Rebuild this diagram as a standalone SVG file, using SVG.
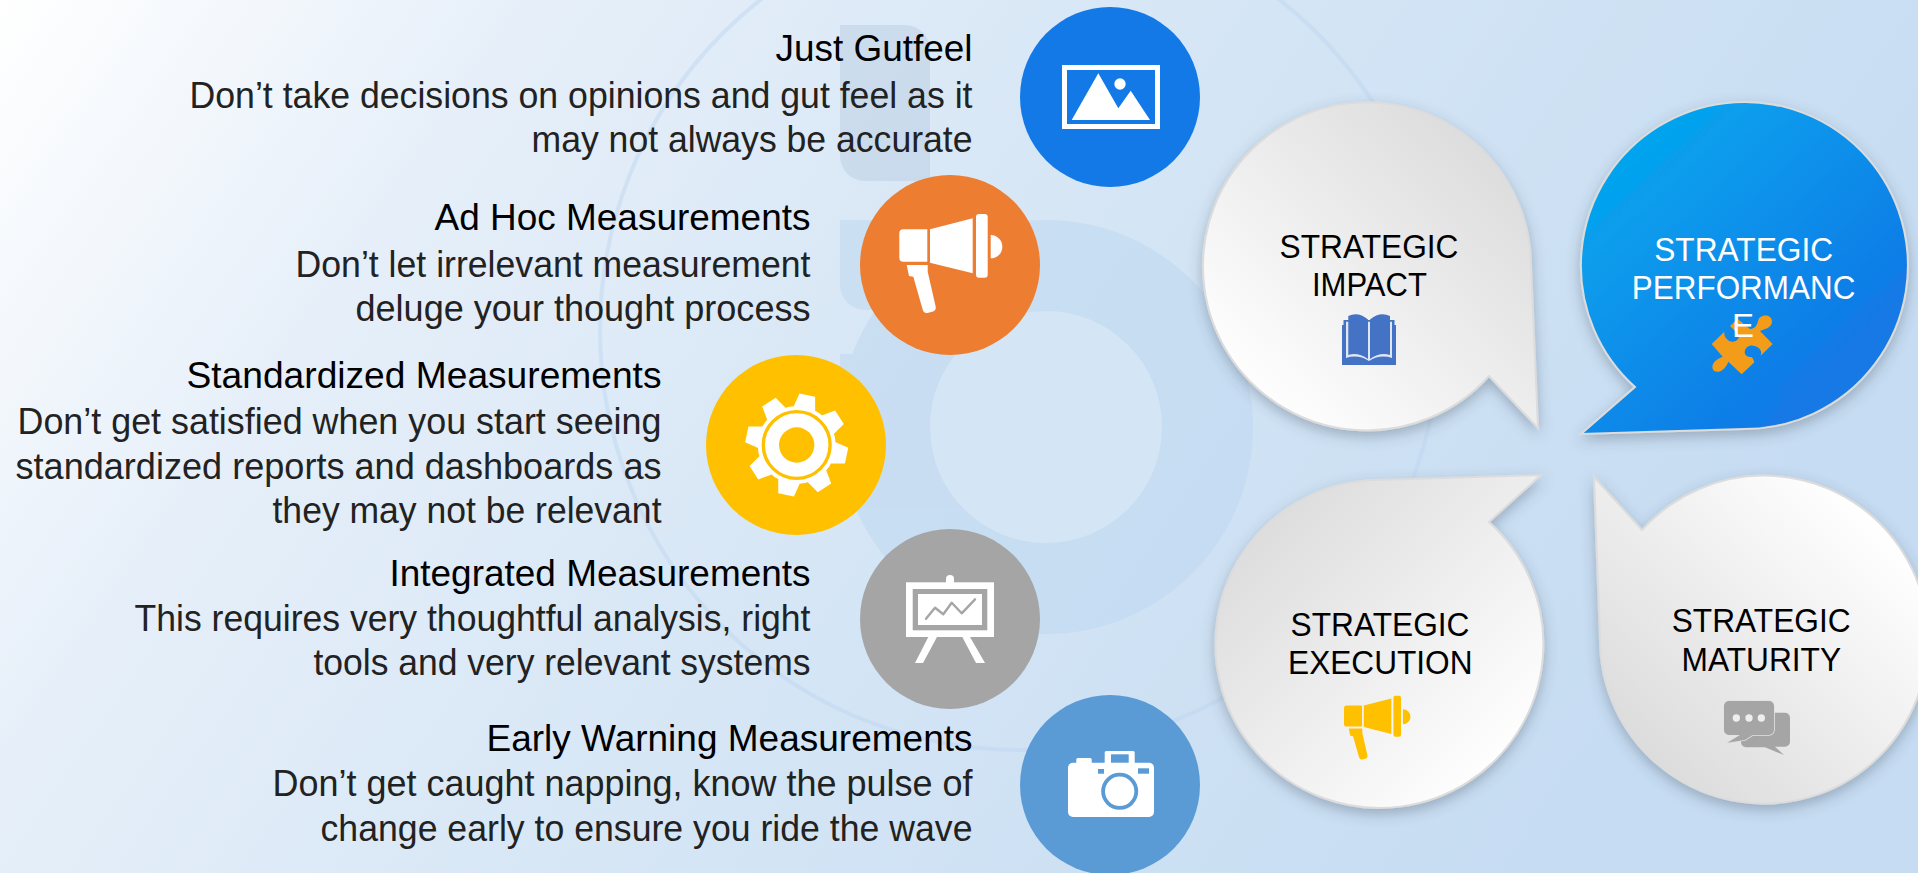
<svg xmlns="http://www.w3.org/2000/svg" xmlns:xlink="http://www.w3.org/1999/xlink" width="1918" height="873" viewBox="0 0 1918 873">
<style>
text{font-family:"Liberation Sans",Arial,sans-serif}
.h{font-size:37.5px;fill:#000;text-anchor:end}
.b{font-size:37.5px;fill:#222;text-anchor:end}
.l{font-size:33px;text-anchor:middle;fill:#000}
.w{fill:#fff}
.bub{stroke:#dcdcdc;stroke-width:2;filter:url(#sh)}
.wm{fill:#b8d3ee}
</style>
<defs>
<linearGradient id="bg" gradientUnits="userSpaceOnUse" x1="0" y1="0" x2="1450" y2="1000">
<stop offset="0" stop-color="#fff"/><stop offset=".25" stop-color="#e6eff9"/><stop offset=".6" stop-color="#d4e5f5"/><stop offset="1" stop-color="#c6dcf2"/>
</linearGradient>
<linearGradient id="g1" x1=".12" y1=".88" x2=".85" y2=".12"><stop offset="0" stop-color="#fff"/><stop offset="1" stop-color="#dcdcdc"/></linearGradient>
<linearGradient id="g2" x1=".1" y1=".1" x2=".75" y2=".8"><stop offset="0" stop-color="#04a8ef"/><stop offset="1" stop-color="#1279e6"/></linearGradient>
<linearGradient id="g3" x1=".12" y1=".12" x2=".88" y2=".88"><stop offset="0" stop-color="#dcdcdc"/><stop offset="1" stop-color="#fff"/></linearGradient>
<linearGradient id="g4" x1=".15" y1=".85" x2=".85" y2=".15"><stop offset="0" stop-color="#dcdcdc"/><stop offset="1" stop-color="#fff"/></linearGradient>
<filter id="sh" x="-20%" y="-20%" width="140%" height="140%"><feDropShadow dx="0" dy="5" stdDeviation="7" flood-color="#3c4b5a" flood-opacity=".35"/></filter>
<g id="mega">
<path d="M4 15.3H28V47.7H4A4 4 0 0 1 0 43.7V19.3A4 4 0 0 1 4 15.3Z"/>
<path d="M30.7 15.3L73.4 4.3V59.3L30.7 48.7Z"/>
<rect x="76.7" y="0" width="11.7" height="63.7" rx="3"/>
<path d="M91.4 21A11.6 11.6 0 0 1 91.4 44.3Z"/>
<path d="M7.4 51H28.4V57.7L36.4 92.7Q37 96.5 33 97.7L28 99Q24.5 99.5 23.5 96L14 62.7L9.7 62Z"/>
</g>
</defs>
<rect width="1918" height="873" fill="url(#bg)"/>
<g id="watermark">
<circle cx="1020" cy="330" r="420" fill="none" stroke="#bcd5ef" stroke-width="4" opacity=".45"/>
<g opacity=".42">
<path class="wm" d="M840 25H905A25 25 0 0 1 930 50V181H865A25 25 0 0 1 840 156Z" style="fill:#b4c9e0"/>
<path class="wm" d="M840 220H1000V310H865A25 25 0 0 1 840 285Z"/>
<path class="wm" d="M840 354H905A25 25 0 0 1 930 379V500H860L840 430Z"/>
<circle class="wm" cx="1046" cy="427" r="207"/>
</g>
<circle cx="1046" cy="427" r="116" fill="#d4e5f5"/>
</g>
<g id="item-gutfeel">
<circle cx="1110" cy="97" r="90" fill="#1279e6"/>
<rect x="1064.5" y="67.5" width="93" height="59" fill="none" stroke="#fff" stroke-width="5"/>
<path d="M1098.3 73.3L1118.3 108.3L1130.7 90.7L1150 120H1071.7Z" fill="#fff"/>
<circle cx="1120" cy="84" r="5.7" fill="#fff"/>
<text class="h" x="972.5" y="61" textLength="197" lengthAdjust="spacingAndGlyphs">Just Gutfeel</text>
<text class="b" x="972.5" y="107.5" textLength="783" lengthAdjust="spacingAndGlyphs">Don’t take decisions on opinions and gut feel as it</text>
<text class="b" x="972.5" y="152" textLength="441" lengthAdjust="spacingAndGlyphs">may not always be accurate</text>
</g>
<g id="item-adhoc">
<circle cx="950" cy="265" r="90" fill="#ed7d31"/>
<use xlink:href="#mega" href="#mega" x="899.3" y="214" fill="#fff"/>
<text class="h" x="810.5" y="230" textLength="376" lengthAdjust="spacingAndGlyphs">Ad Hoc Measurements</text>
<text class="b" x="810.5" y="277" textLength="515" lengthAdjust="spacingAndGlyphs">Don’t let irrelevant measurement</text>
<text class="b" x="810.5" y="321" textLength="455" lengthAdjust="spacingAndGlyphs">deluge your thought process</text>
</g>
<g id="item-standardized">
<circle cx="796" cy="445" r="90" fill="#ffc000"/>
<g transform="translate(796.7 445)" fill="#fff">
<circle r="39"/>
<polygon transform="rotate(12)" points="-11,-37 -8,-51 8,-51 11,-37"/>
<polygon transform="rotate(57)" points="-11,-37 -8,-51 8,-51 11,-37"/>
<polygon transform="rotate(102)" points="-11,-37 -8,-51 8,-51 11,-37"/>
<polygon transform="rotate(147)" points="-11,-37 -8,-51 8,-51 11,-37"/>
<polygon transform="rotate(192)" points="-11,-37 -8,-51 8,-51 11,-37"/>
<polygon transform="rotate(237)" points="-11,-37 -8,-51 8,-51 11,-37"/>
<polygon transform="rotate(282)" points="-11,-37 -8,-51 8,-51 11,-37"/>
<polygon transform="rotate(327)" points="-11,-37 -8,-51 8,-51 11,-37"/>
<circle r="33.4" fill="none" stroke="#ffc000" stroke-width="3.4"/>
<circle r="17.7" fill="#ffc000"/>
</g>
<text class="h" x="661.5" y="388" textLength="475" lengthAdjust="spacingAndGlyphs">Standardized Measurements</text>
<text class="b" x="661.5" y="434" textLength="644" lengthAdjust="spacingAndGlyphs">Don’t get satisfied when you start seeing</text>
<text class="b" x="661.5" y="479" textLength="646" lengthAdjust="spacingAndGlyphs">standardized reports and dashboards as</text>
<text class="b" x="661.5" y="523" textLength="389" lengthAdjust="spacingAndGlyphs">they may not be relevant</text>
</g>
<g id="item-integrated">
<circle cx="950" cy="619" r="90" fill="#a5a5a5"/>
<rect x="946" y="575" width="8" height="12" rx="4" fill="#fff"/>
<rect x="906" y="582.3" width="88" height="54.7" fill="#fff"/>
<rect x="912.7" y="589" width="74.6" height="41.3" fill="#a5a5a5"/>
<rect x="918" y="594" width="64" height="31" fill="#fff"/>
<polyline points="926,618.7 935,607.7 943.3,614.3 951.7,602.7 961.7,613.3 975,599.3" fill="none" stroke="#a5a5a5" stroke-width="2.4" stroke-linecap="round" stroke-linejoin="round"/>
<polygon points="928.3,637 937,637 923,663 915,663" fill="#fff"/>
<polygon points="962.3,637 970,637 985,663 976,663" fill="#fff"/>
<text class="h" x="810.5" y="586" textLength="421" lengthAdjust="spacingAndGlyphs">Integrated Measurements</text>
<text class="b" x="810.5" y="631" textLength="676" lengthAdjust="spacingAndGlyphs">This requires very thoughtful analysis, right</text>
<text class="b" x="810.5" y="675" textLength="497" lengthAdjust="spacingAndGlyphs">tools and very relevant systems</text>
</g>
<g id="item-earlywarning">
<circle cx="1110" cy="785" r="90" fill="#5b9bd5"/>
<rect x="1076.3" y="758" width="15.4" height="8" rx="1.5" fill="#fff"/>
<rect x="1104.7" y="751" width="30" height="14" rx="1.5" fill="#fff"/>
<rect x="1068" y="762.7" width="86" height="54.3" rx="5" fill="#fff"/>
<rect x="1111" y="754.3" width="17.7" height="8.4" fill="#5b9bd5"/>
<rect x="1098" y="769" width="6" height="4.7" fill="#5b9bd5"/>
<rect x="1138" y="768.3" width="11" height="5.4" fill="#5b9bd5"/>
<circle cx="1119.7" cy="791.3" r="16.6" fill="#fff" stroke="#5b9bd5" stroke-width="3.8"/>
<text class="h" x="972.5" y="750.5" textLength="486" lengthAdjust="spacingAndGlyphs">Early Warning Measurements</text>
<text class="b" x="972.5" y="796" textLength="700" lengthAdjust="spacingAndGlyphs">Don’t get caught napping, know the pulse of</text>
<text class="b" x="972.5" y="841" textLength="652" lengthAdjust="spacingAndGlyphs">change early to ensure you ride the wave</text>
</g>
<g id="strategic-impact">
<path class="bub" fill="url(#g1)" d="M1531 266L1538 428L1489 376A164 164 0 1 1 1531 266Z"/>
<text class="l" x="1369" y="257.7" textLength="179" lengthAdjust="spacingAndGlyphs">STRATEGIC</text>
<text class="l" x="1369.4" y="296" textLength="115" lengthAdjust="spacingAndGlyphs">IMPACT</text>
<g>
<path d="M1342 325H1343.5V320H1394.5V325H1396V365H1342Z" fill="#4472c4"/>
<path d="M1346 321.7V358Q1358 354 1369 361Q1380 354 1392 358V321.7Z" fill="#dfe7f5"/>
<path d="M1348.3 316Q1358 311 1368 319.5V359Q1358 352 1348.3 355Z" fill="#4472c4"/>
<path d="M1370 319.5Q1380 311 1390 316V355Q1380 352 1370 359Z" fill="#4472c4"/>
</g>
</g>
<g id="strategic-performance">
<path class="bub" fill="url(#g2)" d="M1744 429L1581 434L1635 387A163.5 163.5 0 1 1 1744 429Z"/>
<path transform="translate(1700 305) scale(.3333)" fill="#f39c1a" d="M35 117L73 80C70 95 85 112 100 110C115 108 122 95 112 85L90 63L113 42L150 72C165 72 172 60 175 45C180 28 215 25 216 50C215 68 195 72 180 78L218 117L182 152C190 135 170 120 150 122C132 125 128 150 145 155C152 157 158 152 163 172L125 208L85 170C78 190 60 207 42 198C30 185 40 165 68 155Z"/>
<text class="l w" x="1743.7" y="261" textLength="179" lengthAdjust="spacingAndGlyphs">STRATEGIC</text>
<text class="l w" x="1743.6" y="299" textLength="223.5" lengthAdjust="spacingAndGlyphs">PERFORMANC</text>
<text class="l w" x="1743" y="336.7">E</text>
</g>
<g id="strategic-execution">
<path class="bub" fill="url(#g3)" d="M1377 480L1541 475L1489 522A164 164 0 1 1 1377 480Z"/>
<text class="l" x="1380" y="635.7" textLength="179" lengthAdjust="spacingAndGlyphs">STRATEGIC</text>
<text class="l" x="1380.3" y="673.7" textLength="184.5" lengthAdjust="spacingAndGlyphs">EXECUTION</text>
<use xlink:href="#mega" href="#mega" transform="translate(1344 695.7) scale(.645)" fill="#ffc000"/>
</g>
<g id="strategic-maturity">
<path class="bub" fill="url(#g4)" d="M1642 530A164 164 0 1 1 1600 640L1594 477Z"/>
<text class="l" x="1761.2" y="632" textLength="179" lengthAdjust="spacingAndGlyphs">STRATEGIC</text>
<text class="l" x="1761.3" y="670.7" textLength="159.5" lengthAdjust="spacingAndGlyphs">MATURITY</text>
<g transform="translate(1710 690) scale(.3333)" fill="#a5a5a5">
<path d="M108 68H225A15 15 0 0 1 240 83V155A15 15 0 0 1 225 170H195L222 195L165 172H108A15 15 0 0 1 93 157V83A15 15 0 0 1 108 68Z"/>
<path d="M57 33H177A15 15 0 0 1 192 48V120A15 15 0 0 1 177 135H128L105 150L52 158L90 135H57A15 15 0 0 1 42 120V48A15 15 0 0 1 57 33Z" stroke="#e2e2e2" stroke-width="5" paint-order="stroke"/>
<circle cx="79" cy="84" r="11" fill="#eee"/><circle cx="117" cy="84" r="11" fill="#eee"/><circle cx="154" cy="84" r="11" fill="#eee"/>
</g>
</g>
</svg>
